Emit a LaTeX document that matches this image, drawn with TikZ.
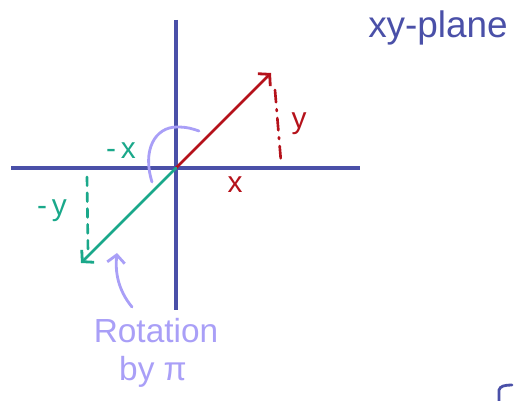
\documentclass[tikz,border=0pt]{standalone}
\usepackage{fontspec}
\setmainfont{Liberation Sans}
\usetikzlibrary{arrows.meta}
\definecolor{axisblue}{HTML}{4A50A8}
\definecolor{vecred}{HTML}{B5121B}
\definecolor{vecgreen}{HTML}{1AA88A}
\definecolor{rotpurple}{HTML}{A99FF7}
\tikzset{
    axis/.style={axisblue, line width=1.8pt},
    vec/.style={line width=1.6pt, -{Straight Barb[length=4.5pt, width=10pt]}, line cap=round},
    proj/.style={line width=1.5pt, line cap=round},
    lbl/.style={font=\fontsize{17}{19}\selectfont}
}
\begin{document}
\begin{tikzpicture}[x=0.02cm, y=-0.02cm]
    \useasboundingbox (0,0) rectangle (517,401);
    % axes
    \coordinate (O) at (176,168);
    \coordinate (xl) at (11,168);
    \coordinate (xr) at (360,168);
    \coordinate (yt) at (176,20);
    \coordinate (yb) at (176,310);
    \draw[axis] (xl) -- (xr);
    \draw[axis] (yt) -- (yb);
    % vectors
    \coordinate (P) at (271,73);
    \coordinate (Q) at (81,263);
    \draw[vec, vecred] (O) -- (P);
    \draw[vec, vecgreen] (O) -- (Q);
    % projections
    \coordinate (pt) at (275,90);
    \coordinate (pb) at (281,162);
    \coordinate (qt) at (87,177);
    \coordinate (qb) at (88,252);
    \draw[proj, vecred, dash pattern=on 7pt off 4pt on 1pt off 4pt] (pt) -- (pb);
    \draw[proj, vecgreen, dash pattern=on 5pt off 4pt] (qt) -- (qb);
    \node[lbl, vecred] (ylab) at (299,124) {y};
    \node[lbl, vecred] (xlab) at (235,185) {x};
    \node[lbl, vecgreen] (mxlab) at (121,151) {-\,x};
    \node[lbl, vecgreen] (mylab) at (52,211) {-\,y};
    % rotation
    \draw[rotpurple, line width=1.6pt, line cap=round] (152,182) .. controls (142,150) and (155,127) .. (177,127) .. controls (188,127) and (193,129) .. (199,131);
    \coordinate (rt) at (132,307);
    \coordinate (rh) at (117,253);
    \draw[rotpurple, vec] (rt) .. controls (118,290) and (115,272) .. (rh);
    \node[rotpurple, font=\fontsize{19}{22}\selectfont] (rot) at (156,331) {Rotation};
    \node[rotpurple, font=\fontsize{19}{22}\selectfont] (by) at (153,372) {by π};
    % title
    \node[axisblue, font=\fontsize{21}{24}\selectfont] (title) at (438,28) {xy-plane};
    \draw[axisblue, line width=1.6pt, line cap=round] (499,401) -- (499,390) .. controls (500,386) and (505,385) .. (512,385);
\end{tikzpicture}
\end{document}
